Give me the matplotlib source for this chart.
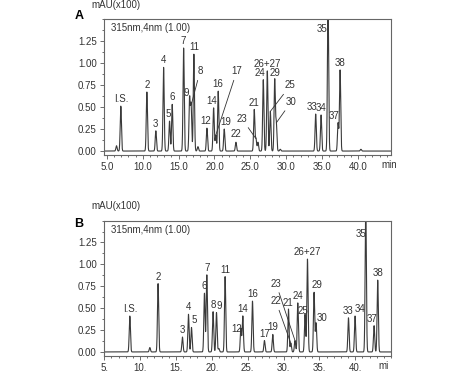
import numpy as np
import matplotlib.pyplot as plt
from matplotlib.ticker import MultipleLocator, AutoMinorLocator

plt.rcParams['font.family'] = ['Liberation Sans', 'DejaVu Sans']

# ---- panel A peaks: retention time (min), height (mAU x100)
a_names = ['', 'I.S.', '2', '3', '4', '5', '6', '7', '9', '8', '11', '', '12', '14', '17',
           '16', '19', '22', '21', '23', '', '24', '26+27', '25', '29', '30', '',
           '33', '34', '35', '37', '38', '']
a_times = [6.35, 6.95, 10.58, 11.83, 12.91, 13.74, 14.11, 15.70, 16.53, 16.74, 17.13, 17.69,
           18.95, 19.88, 20.18, 20.52, 21.36, 22.99, 25.54, 25.78, 26.06, 26.80, 27.36,
           27.78, 28.39, 28.61, 29.17, 34.10, 34.85, 35.82, 37.22, 37.50, 40.40]
a_heights = [0.06, 0.51, 0.67, 0.23, 0.95, 0.34, 0.53, 1.17, 0.60, 0.52, 1.10, 0.05,
             0.26, 0.49, 0.18, 0.68, 0.25, 0.10, 0.47, 0.14, 0.10, 0.81, 0.91,
             0.45, 0.81, 0.32, 0.02, 0.42, 0.41, 1.70, 0.32, 0.92, 0.02]

# ---- panel B peaks
b_names = ['I.S.', '', '2', '3', '4', '5', '6', '7', '8', '9', '', '11', '12', '14', '16',
           '17', '19', '21', '22', '23', '24', '25', '26+27', '29', '30', '33', '34', '35',
           '37', '38']
b_times = [8.56, 11.35, 12.50, 15.90, 16.74, 17.16, 18.97, 19.30, 20.17, 20.65, 20.97, 21.85,
           24.05, 24.32, 25.67, 27.34, 28.50, 30.69, 31.02, 31.60, 31.99, 33.00, 33.34,
           34.26, 34.54, 39.06, 39.98, 41.47, 42.63, 43.14]
b_heights = [0.41, 0.05, 0.78, 0.17, 0.43, 0.28, 0.67, 0.88, 0.46, 0.45, 0.04, 0.86,
             0.27, 0.41, 0.58, 0.13, 0.20, 0.49, 0.10, 0.13, 0.56, 0.43, 1.06,
             0.68, 0.33, 0.39, 0.41, 1.70, 0.30, 0.82]

Y_TOP = 1.5

# label nudges in pixels (dx, dy) from the default spot just above the peak
# (for off-scale peaks the label hangs below the top of the frame)
a_nudge = {'5': (-1, 0), '9': (-3, -2), '12': (-1, 0), '14': (-2, 0), '19': (2, 0),
           '22': (0, 1), '24': (-3, 0), '33': (-4, 0), '35': (-6, -5), '37': (-4, 0)}
b_nudge = {'5': (3, 0), '9': (3, 0), '12': (-4, -8), '21': (-1, -1), '25': (-2, -4),
           '29': (3, 0), '30': (6, -2), '34': (5, 0), '35': (-5, -8), '37': (-2, 0)}
# labels with leader lines: text offset in pixels from the peak top
a_leader = {'8': (9, 34), '17': (21, 64), '23': (-14, 20), '25': (20, 26), '30': (15, 21)}
b_leader = {'22': (-15, 42), '23': (-19, 57)}


def trace(t, times, heights, sigma=0.085):
    y = np.zeros_like(t)
    for rt, h in zip(times, heights):
        y += h * np.exp(-0.5 * ((t - rt) / sigma) ** 2)
    return y


def draw(ax, names, times, heights, nudge, leader, xlim, xlab_fmt, unit, unit_x):
    t = np.linspace(4.0, 46.0, 12000)
    ax.plot(t, trace(t, times, heights), color='#3a3a3a', lw=0.8)
    ax.set_xlim(*xlim)
    ax.set_ylim(-0.045, Y_TOP)
    ax.xaxis.set_minor_locator(MultipleLocator(1))
    ax.yaxis.set_minor_locator(AutoMinorLocator(2))
    ticks = np.arange(5, 41, 5)
    ax.set_xticks(ticks)
    ax.set_xticklabels([xlab_fmt.format(v) for v in ticks])
    yt = [0, 0.25, 0.5, 0.75, 1.0, 1.25]
    ax.set_yticks(yt)
    ax.set_yticklabels(['%.2f' % v for v in yt])
    ax.yaxis.set_minor_locator(MultipleLocator(0.125))
    ax.tick_params(which='both', direction='out', colors='#555555', labelcolor='#333333',
                   labelsize=7, width=0.6)
    ax.tick_params(which='major', length=3, pad=2)
    ax.tick_params(which='minor', length=1.5)
    for s in ax.spines.values():
        s.set_color('#666666')
        s.set_linewidth(0.8)
    ax.text(0.025, 0.97, '315nm,4nm (1.00)', transform=ax.transAxes, ha='left', va='top',
            fontsize=7, color='#333333')
    ax.annotate(unit, xy=(unit_x, 0), xycoords=('data', 'axes fraction'),
                xytext=(0, -5), textcoords='offset pixels', ha='center', va='top',
                fontsize=7, color='#333333')
    for name, rt, h in zip(names, times, heights):
        if not name:
            continue
        if name in leader:
            dx, dy = leader[name]
            ax.annotate(name, xy=(rt, h), xytext=(dx, dy), textcoords='offset pixels',
                        ha='center', va='center', fontsize=7, color='#333333',
                        arrowprops=dict(arrowstyle='-', color='#333333', lw=0.6,
                                        shrinkA=1, shrinkB=0))
        elif h > Y_TOP:
            dx, dy = nudge.get(name, (0, 0))
            ax.annotate(name, xy=(rt, Y_TOP), xytext=(dx, dy), textcoords='offset pixels',
                        ha='center', va='top', fontsize=7, color='#333333')
        else:
            dx, dy = nudge.get(name, (0, 0))
            ax.annotate(name, xy=(rt, h), xytext=(dx, 2 + dy), textcoords='offset pixels',
                        ha='center', va='bottom', fontsize=7, color='#333333')


fig = plt.figure(figsize=(4.74, 3.79), dpi=100)
ax_a = fig.add_axes([0.219, 0.591, 0.606, 0.359])
ax_b = fig.add_axes([0.219, 0.061, 0.606, 0.357])

draw(ax_a, a_names, a_times, a_heights, a_nudge, a_leader, (4.58, 44.6), '{:.1f}', 'min', 44.3)
draw(ax_b, b_names, b_times, b_heights, b_nudge, b_leader, (4.93, 45.0), '{:d}.', 'mi', 43.9)

fig.text(0.245, 0.987, 'mAU(x100)', ha='center', va='center', fontsize=7, color='#333333')
fig.text(0.245, 0.456, 'mAU(x100)', ha='center', va='center', fontsize=7, color='#333333')
fig.text(0.167, 0.958, 'A', ha='center', va='center', fontsize=9, fontweight='bold')
fig.text(0.167, 0.409, 'B', ha='center', va='center', fontsize=9, fontweight='bold')

fig.savefig('out.png', dpi=100)
